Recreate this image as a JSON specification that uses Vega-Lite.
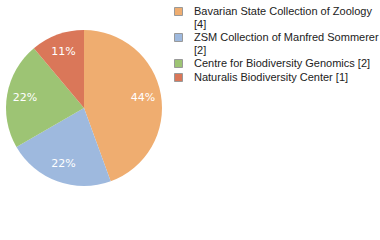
{
  "$schema": "https://vega.github.io/schema/vega-lite/v6.json",
  "width": 168,
  "height": 216,
  "autosize": "none",
  "padding": {"left": 0, "top": 0, "right": 212, "bottom": 24},
  "background": "white",
  "data": {"values": [
    {"name": "Bavarian State Collection of Zoology [4]", "count": 4, "pct": "44%", "o": 1},
    {"name": "ZSM Collection of Manfred Sommerer [2]", "count": 2, "pct": "22%", "o": 2},
    {"name": "Centre for Biodiversity Genomics [2]", "count": 2, "pct": "22%", "o": 3},
    {"name": "Naturalis Biodiversity Center [1]", "count": 1, "pct": "11%", "o": 4}
  ]},
  "encoding": {
    "theta": {"field": "count", "type": "quantitative", "stack": true},
    "order": {"field": "o", "type": "quantitative"}
  },
  "layer": [
    {
      "mark": {"type": "arc", "outerRadius": 78},
      "encoding": {
        "color": {
          "field": "name", "type": "nominal",
          "sort": ["Bavarian State Collection of Zoology [4]", "ZSM Collection of Manfred Sommerer [2]", "Centre for Biodiversity Genomics [2]", "Naturalis Biodiversity Center [1]"],
          "scale": {
            "domain": ["Bavarian State Collection of Zoology [4]", "ZSM Collection of Manfred Sommerer [2]", "Centre for Biodiversity Genomics [2]", "Naturalis Biodiversity Center [1]"],
            "range": ["#EFAD70", "#9EB9DE", "#9DC474", "#DA7759"]
          },
          "legend": {
            "title": null,
            "orient": "none",
            "legendX": 173,
            "legendY": 6,
            "symbolType": "square",
            "symbolSize": 64,
            "symbolStrokeColor": "#999999",
            "symbolStrokeWidth": 1,
            "labelFont": "Liberation Sans",
            "labelFontSize": 11,
            "labelOffset": 10,
            "labelColor": "#222222",
            "labelLimit": 300,
            "rowPadding": 1,
            "encode": {"labels": {"update": {"lineHeight": {"value": 13}}}},
            "labelExpr": "datum.label == 'Bavarian State Collection of Zoology [4]' ? ['Bavarian State Collection of Zoology', '[4]'] : datum.label == 'ZSM Collection of Manfred Sommerer [2]' ? ['ZSM Collection of Manfred Sommerer', '[2]'] : datum.label"
          }
        }
      }
    },
    {
      "mark": {"type": "text", "radius": 60, "color": "white", "font": "DejaVu Sans", "fontSize": 11},
      "encoding": {"text": {"field": "pct"}}
    }
  ]
}
